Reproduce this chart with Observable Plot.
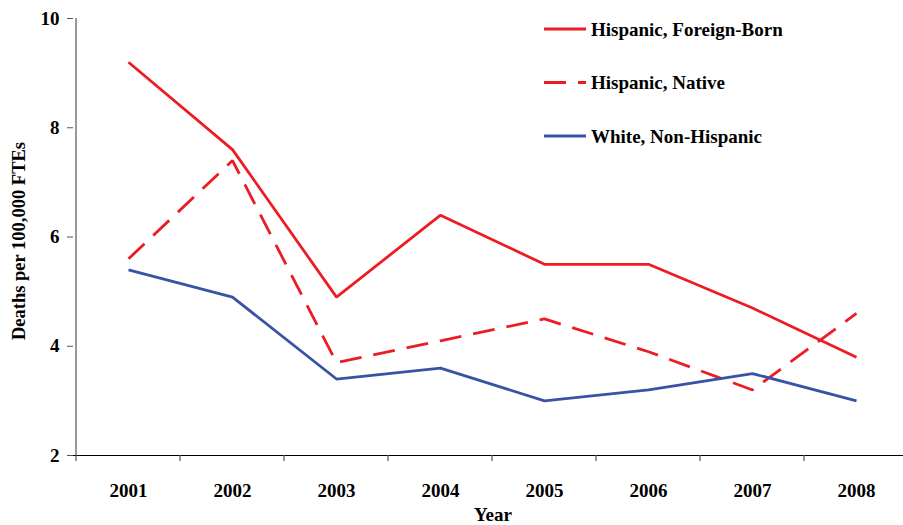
<!DOCTYPE html>
<html>
<head>
<meta charset="utf-8">
<script src="https://cdn.jsdelivr.net/npm/d3@7"></script>
<script src="https://cdn.jsdelivr.net/npm/@observablehq/plot@0.6"></script>
<style>
  html, body { margin: 0; padding: 0; background: #fff; }
  #chart svg { display: block; overflow: visible; }
</style>
</head>
<body>
<div id="chart"></div>
<script>
const years = ["2001", "2002", "2003", "2004", "2005", "2006", "2007", "2008"];
const foreignBorn = [9.2, 7.6, 4.9, 6.4, 5.5, 5.5, 4.7, 3.8];
const nativeBorn = [5.6, 7.4, 3.7, 4.1, 4.5, 3.9, 3.2, 4.6];
const whiteNH = [5.4, 4.9, 3.4, 3.6, 3.0, 3.2, 3.5, 3.0];
const yTicks = [2, 4, 6, 8, 10];
const seriesNames = ["Hispanic, Foreign-Born", "Hispanic, Native", "White, Non-Hispanic"];
const seriesColors = ["#ED1C24", "#ED1C24", "#3953A4"];
const seriesDash = [null, "22,12", null];

const seriesValues = [foreignBorn, nativeBorn, whiteNH];
const rows = seriesValues.map((vals, i) => years.map((y, j) => ({year: y, value: vals[j], series: seriesNames[i]})));

const font = "'Liberation Serif', 'Times New Roman', serif";

const chart = Plot.plot({
  width: 903,
  height: 525,
  marginLeft: 73,
  marginRight: -8,
  marginTop: 18,
  marginBottom: 70,
  style: {fontFamily: font, fontWeight: "bold", fontSize: "18px", color: "#000", background: "#fff"},
  x: {type: "band", domain: years, padding: 0, range: [73, 911]},
  y: {domain: [2, 10], range: [455, 18]},
  marks: [
    Plot.axisY({ticks: yTicks, tickSize: 6, tickPadding: 8, fontSize: 19, fontWeight: "bold", label: null, stroke: "#555"}),
    Plot.axisX({tickSize: 0, tickPadding: 28, fontSize: 19, fontWeight: "bold", label: null}),
    Plot.ruleY([2], {stroke: "#000", strokeWidth: 1.2}),
    ...rows.map((data, i) => Plot.line(data, {
      x: "year", y: "value",
      stroke: seriesColors[i], strokeWidth: 2.8,
      strokeDasharray: seriesDash[i] ?? undefined,
      strokeLinejoin: "miter", strokeLinecap: "butt"
    }))
  ]
});

document.getElementById("chart").appendChild(chart);

const svg = d3.select(chart);
const xs = chart.scale("x");
const ys = chart.scale("y");
const bw = xs.bandwidth;
const x0 = xs.apply(years[0]);
const yBottom = ys.apply(2), yTop = ys.apply(10);

// y axis line
svg.append("line").attr("x1", x0).attr("x2", x0).attr("y1", yTop).attr("y2", yBottom)
  .attr("stroke", "#555").attr("stroke-width", 1.2);

// x ticks at band boundaries
const bounds = years.map(y => xs.apply(y)).concat([xs.apply(years[years.length - 1]) + bw]);
svg.append("g").selectAll("line").data(bounds).join("line")
  .attr("x1", d => d).attr("x2", d => d).attr("y1", yBottom).attr("y2", yBottom + 6)
  .attr("stroke", "#555").attr("stroke-width", 1.2);

// axis titles
svg.append("text").text("Year")
  .attr("x", 493).attr("y", 521)
  .attr("text-anchor", "middle")
  .attr("font-family", font).attr("font-weight", "bold").attr("font-size", 19).attr("fill", "#000");
svg.append("text").text("Deaths per 100,000 FTEs")
  .attr("transform", `translate(25, 241) rotate(-90)`)
  .attr("text-anchor", "middle")
  .attr("font-family", font).attr("font-weight", "bold").attr("font-size", 18.5).attr("fill", "#000");

// legend
const leg = svg.append("g");
seriesNames.forEach((name, i) => {
  const cy = 29 + i * 53.5;
  leg.append("line").attr("x1", 544).attr("x2", 586).attr("y1", cy).attr("y2", cy)
    .attr("stroke", seriesColors[i]).attr("stroke-width", 2.8)
    .attr("stroke-dasharray", seriesDash[i]);
  leg.append("text").text(name).attr("x", 591).attr("y", cy).attr("dy", "0.35em")
    .attr("text-anchor", "start")
    .attr("font-family", font).attr("font-weight", "bold").attr("font-size", 19).attr("fill", "#000");
});
</script>
</body>
</html>
